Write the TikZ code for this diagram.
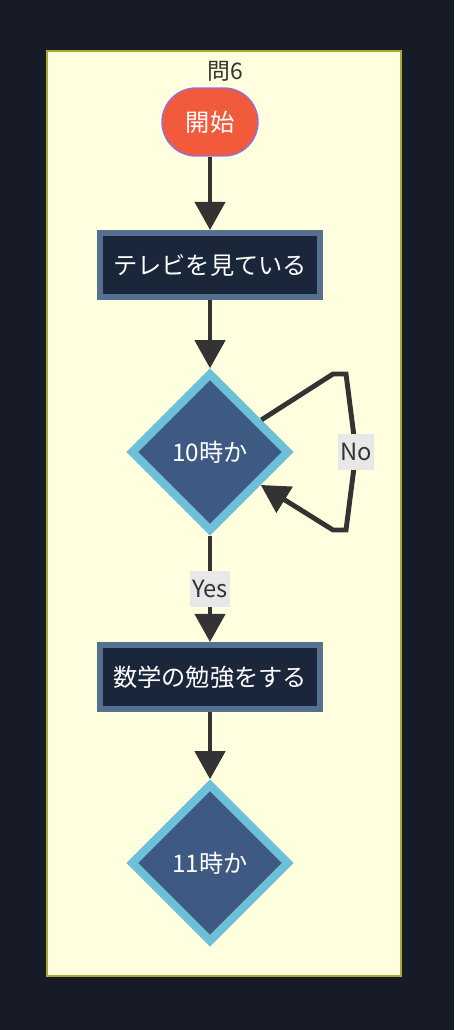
\documentclass[tikz,border=0pt]{standalone}
\usepackage{fontspec}
\setmainfont{Noto Sans CJK JP}
\usetikzlibrary{shapes.geometric,arrows.meta,positioning}

\definecolor{pagebg}{HTML}{161B27}
\definecolor{clusterbg}{HTML}{FFFFE0}
\definecolor{clusterline}{HTML}{AAAA33}
\definecolor{startfill}{HTML}{F25A3C}
\definecolor{startline}{HTML}{9370DB}
\definecolor{boxfill}{HTML}{1A2639}
\definecolor{boxline}{HTML}{56708F}
\definecolor{askfill}{HTML}{3E5A83}
\definecolor{askline}{HTML}{6EC0D8}
\definecolor{edgecol}{HTML}{333333}
\definecolor{labelbg}{HTML}{E8E8E8}

\begin{document}
\begin{tikzpicture}[x=0.02cm, y=-0.02cm,
    maintext/.style={font=\fontsize{13.8}{16}\selectfont},
    starttag/.style={maintext, fill=startfill, draw=startline, line width=0.8pt, text=white,
        rounded corners=0.68cm, minimum width=1.92cm, minimum height=1.36cm, inner sep=0pt},
    taskbox/.style={maintext, fill=boxfill, draw=boxline, line width=3.4pt, text=white,
        minimum width=4.42cm, minimum height=1.28cm, inner sep=0pt},
    askbox/.style={maintext, diamond, aspect=1, fill=askfill, draw=askline, line width=4.8pt, text=white,
        minimum width=3.18cm, minimum height=3.18cm, inner sep=0pt},
    flow/.style={draw=edgecol, line width=2.8pt, -{Triangle[length=16pt, width=17pt]}},
    edgetag/.style={font=\fontsize{13.5}{16}\selectfont, fill=labelbg, text=edgecol,
        inner xsep=1pt, inner ysep=5pt}]

    % page and group
    \fill[pagebg] (0,0) rectangle (454,1030);
    \draw[fill=clusterbg, draw=clusterline, line width=0.6pt] (47,51) rectangle (401,976);
    \node[font=\fontsize{13}{15}\selectfont, text=edgecol] (title) at (225,71) {問6};

    % steps
    \node[starttag] (start) at (210,122) {開始};
    \node[taskbox] (tv) at (210,265) {テレビを見ている};
    \node[askbox] (ten) at (210,452) {10時か};
    \node[taskbox] (study) at (210,677) {数学の勉強をする};
    \node[askbox] (eleven) at (210,863) {11時か};

    % loop corners
    \coordinate (n1) at (333,374);
    \coordinate (n2) at (346,374);
    \coordinate (n3) at (356,452);
    \coordinate (n4) at (346,530);
    \coordinate (n5) at (333,530);

    % arrows
    \draw[flow] (start) -- (tv);
    \draw[flow] (tv) -- (ten);
    \draw[flow] (ten.32) -- (n1) -- (n2) -- (n3) -- (n4) -- (n5) -- (ten.-33);
    \node[edgetag] (no) at (n3) {No};
    \draw[flow] (ten) -- node[edgetag] (yes) {Yes} (study);
    \draw[flow] (study) -- (eleven);
\end{tikzpicture}
\end{document}
